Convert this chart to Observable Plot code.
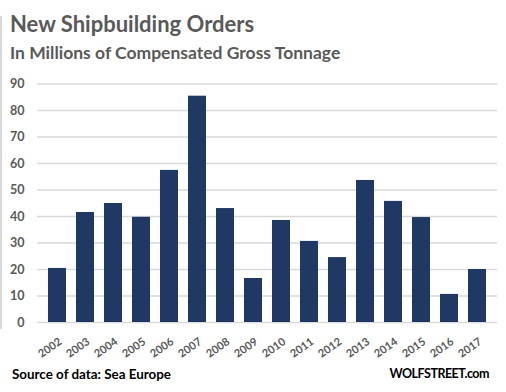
<!DOCTYPE html>
<html>
<head>
<meta charset="utf-8">
<script src="https://cdn.jsdelivr.net/npm/d3@7"></script>
<script src="https://cdn.jsdelivr.net/npm/@observablehq/plot@0.6"></script>
<style>
  body { margin: 0; background: #fff; font-family: Lato, "Open Sans", sans-serif; }
  #wrap { position: relative; width: 506px; height: 392px; overflow: hidden; }
  #edge { position: absolute; left: 0; top: 16px; width: 2px; height: 313px; background: #d9d9d9; }
  #head { position: relative; height: 68px; }
  #title { position: absolute; left: 10px; top: 10px; font-size: 22px; font-weight: 700; color: #595959; white-space: nowrap; }
  #subtitle { position: absolute; left: 10px; top: 42px; font-size: 17.5px; font-weight: 700; color: #595959; white-space: nowrap; }
  #foot { position: absolute; left: 0; top: 366px; width: 506px; height: 20px; font-weight: 700; color: #000; }
  #src { position: absolute; left: 12px; top: 0; font-size: 13.4px; }
  #brand { position: absolute; right: 17px; top: 0px; font-size: 12.5px; letter-spacing: -0.5px; }
  #chart svg { display: block; }
</style>
</head>
<body>
<div id="wrap">
  <div id="edge"></div>
  <div id="head">
    <div id="title">New Shipbuilding Orders</div>
    <div id="subtitle">In Millions of Compensated Gross Tonnage</div>
  </div>
  <div id="chart"></div>
  <div id="foot">
    <div id="src">Source of data: Sea Europe</div>
    <div id="brand">WOLFSTREET.com</div>
  </div>
</div>
<script>
const years = ["2002","2003","2004","2005","2006","2007","2008","2009","2010","2011","2012","2013","2014","2015","2016","2017"];
const orders = [20.4, 41.5, 44.9, 39.7, 57.4, 85.4, 43.0, 16.6, 38.5, 30.6, 24.5, 53.6, 45.7, 39.6, 10.6, 20.0];
const yTicks = [0, 10, 20, 30, 40, 50, 60, 70, 80, 90];

const data = years.map((y, i) => ({year: y, value: orders[i]}));

const chart = Plot.plot({
  width: 506,
  height: 295,
  marginTop: 15.5,
  marginBottom: 41,
  marginLeft: 37,
  marginRight: 9,
  style: {fontFamily: "Lato, 'Open Sans', sans-serif", background: "#fff"},
  x: {domain: years, paddingInner: 0.34, paddingOuter: 0.17, axis: null},
  y: {domain: [0, 90]},
  marks: [
    Plot.ruleY(yTicks, {stroke: "#d9d9d9", strokeWidth: 1.3}),
    Plot.barY(data, {x: "year", y: "value", fill: "#1f3864"}),
    Plot.axisY(yTicks, {tickSize: 0, tickPadding: 13, fontSize: 12.5, fontWeight: 700, fill: "#595959", label: null}),
    Plot.text(years, {x: d => d, y: 0, text: d => d, rotate: -35, textAnchor: "end", lineAnchor: "middle", dx: 3, dy: 18, fontSize: 11, fontWeight: 700, fill: "#595959"})
  ]
});
document.getElementById("chart").appendChild(chart);
</script>
</body>
</html>
